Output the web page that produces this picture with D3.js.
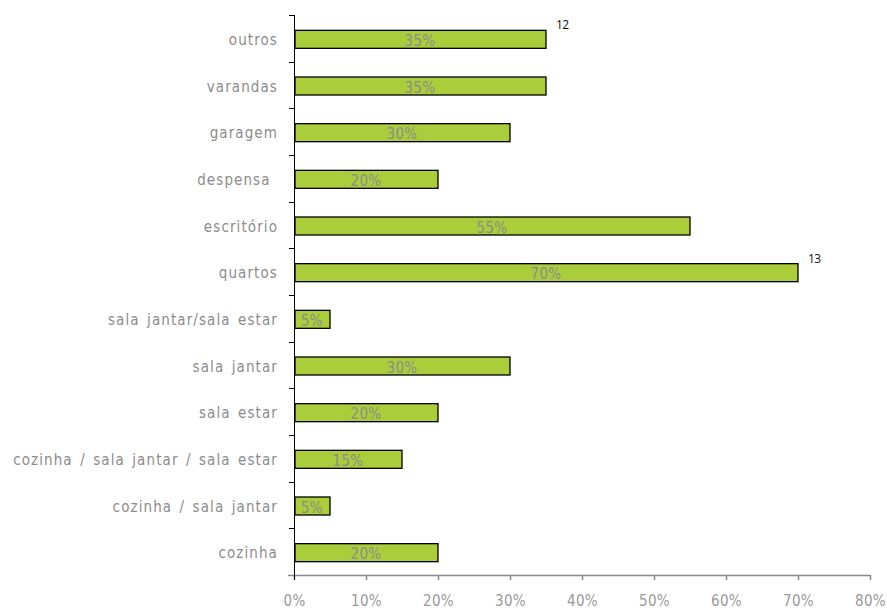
<!DOCTYPE html>
<html>
<head>
<meta charset="utf-8">
<script src="https://cdn.jsdelivr.net/npm/d3@7"></script>
<style>
  body { margin: 0; background: #fff; }
  text { font-family: "DejaVu Sans Condensed", "DejaVu Sans", sans-serif; }
</style>
</head>
<body>
<div id="chart"></div>
<script>
// categories top to bottom
const categories = ["outros", "varandas", "garagem", "despensa ", "escritório", "quartos",
    "sala jantar/sala estar", "sala jantar", "sala estar",
    "cozinha / sala jantar / sala estar", "cozinha / sala jantar", "cozinha"];
const values = [35, 35, 30, 20, 55, 70, 5, 30, 20, 15, 5, 20];
const xTicks = [0, 10, 20, 30, 40, 50, 60, 70, 80];
// small notes next to some bars
const notes = [{ cat: "outros", text: "12" }, { cat: "quartos", text: "13" }];

const W = 887, H = 610;
const margin = { left: 294, top: 15, right: 17, bottom: 35 };
const width = W - margin.left - margin.right;
const height = H - margin.top - margin.bottom;

const svg = d3.select("#chart")
    .append("svg")
    .attr("width", W)
    .attr("height", H);

const chart = svg.append("g")
    .attr("transform", `translate(${margin.left}, ${margin.top})`);

const xScale = d3.scaleLinear()
    .domain([0, 80])
    .range([0, width]);

const yScale = d3.scaleBand()
    .domain(categories)
    .range([0, height]);

const barH = 18;

// x axis
const xAxis = chart.append("g")
    .attr("transform", `translate(0, ${height})`)
    .call(d3.axisBottom(xScale).tickValues(xTicks).tickSize(5).tickSizeOuter(0)
        .tickFormat(d => d + "%"));
xAxis.select(".domain").attr("stroke", "#888").attr("stroke-width", 1.5)
    .attr("d", `M-6,0.5H${width}`);
xAxis.selectAll(".tick line").attr("stroke", "#888").attr("stroke-width", 1.5);
xAxis.selectAll(".tick text")
    .attr("fill", "#999")
    .attr("y", 31)
    .attr("dy", null)
    .style("font-size", "15px")
    .style("letter-spacing", "0.3px");

// y axis (ticks between categories)
const yAxisG = chart.append("g");
yAxisG.append("line")
    .attr("x1", 0.5).attr("x2", 0.5)
    .attr("y1", 0).attr("y2", height + 5)
    .attr("stroke", "#000");
yAxisG.selectAll(".sep")
    .data(categories)
    .enter()
    .append("line")
    .attr("x1", -5).attr("x2", 0.5)
    .attr("y1", d => Math.round(yScale(d)) + 0.5)
    .attr("y2", d => Math.round(yScale(d)) + 0.5)
    .attr("stroke", "#000");

yAxisG.selectAll(".cat")
    .data(categories)
    .enter()
    .append("text")
    .attr("x", -16)
    .attr("y", d => yScale(d) + yScale.bandwidth() / 2 + 1.5)
    .attr("dy", "0.35em")
    .attr("text-anchor", "end")
    .attr("fill", "#8c8c8c")
    .style("font-size", "15px")
    .style("letter-spacing", "1.1px")
    .style("word-spacing", "2px")
    .style("white-space", "pre")
    .text(d => d);

// bars
const bars = chart.selectAll(".bar")
    .data(values)
    .enter()
    .append("g");

bars.append("rect")
    .attr("x", 1)
    .attr("y", (d, i) => yScale(categories[i]) + yScale.bandwidth() / 2 - barH / 2 + 1)
    .attr("width", d => xScale(d) - 1)
    .attr("height", barH)
    .attr("fill", "#abcd3b")
    .attr("stroke", "#000")
    .attr("stroke-width", 1.3);

bars.append("text")
    .attr("x", d => xScale(d) / 2)
    .attr("y", (d, i) => yScale(categories[i]) + yScale.bandwidth() / 2 + 1.5)
    .attr("dy", "0.4em")
    .attr("text-anchor", "middle")
    .attr("fill", "#8c8c8c")
    .style("font-size", "15px")
    .style("letter-spacing", "0.3px")
    .text(d => d + "%");

chart.selectAll(".note")
    .data(notes)
    .enter()
    .append("text")
    .attr("x", d => xScale(values[categories.indexOf(d.cat)]) + 10)
    .attr("y", d => yScale(d.cat) + yScale.bandwidth() / 2 - 9)
    .attr("fill", "#111")
    .style("font-family", "'Open Sans', sans-serif")
    .style("font-size", "12px")
    .style("letter-spacing", "-0.5px")
    .text(d => d.text);
</script>
</body>
</html>
